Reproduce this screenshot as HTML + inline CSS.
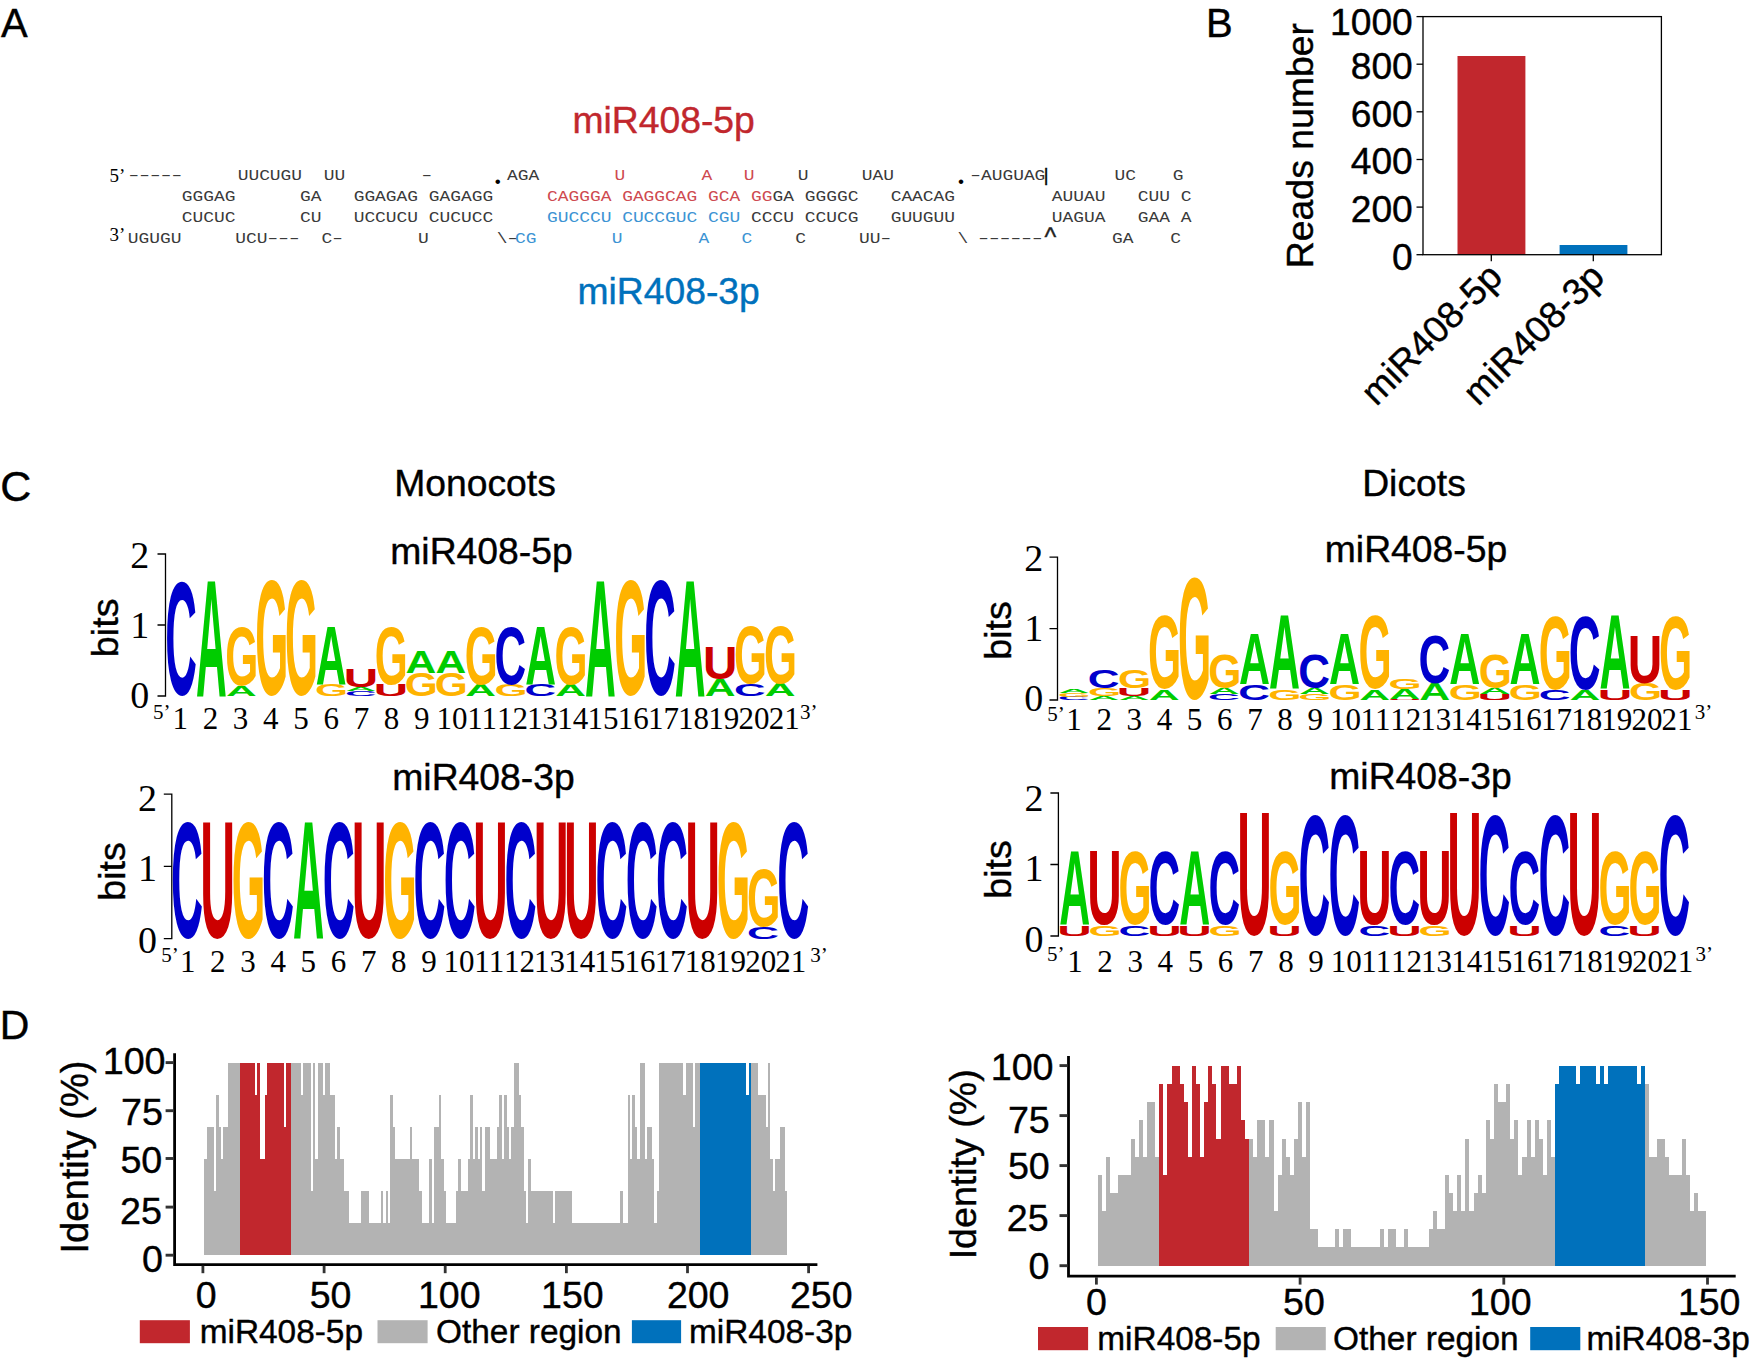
<!DOCTYPE html>
<html lang="en"><head><meta charset="utf-8"><title>miR408 figure</title>
<style>
html,body{margin:0;padding:0;background:#fff;}
svg{display:block}
text{white-space:pre}
.s{font-family:'Liberation Sans', sans-serif;stroke-width:.4px}
.r{font-family:'Liberation Serif', serif}
.m{font-family:'Liberation Mono', monospace}
.b{font-family:'Liberation Sans', sans-serif;font-weight:bold;font-size:100px}
</style></head><body>
<svg width="1750" height="1363" viewBox="0 0 1750 1363">
<rect width="1750" height="1363" fill="#fff"/>
<text class="s" x="1.00" y="37.20" font-size="40" stroke="#000">A</text>
<text class="s" x="1206.00" y="36.50" font-size="40" stroke="#000">B</text>
<text class="s" x="0.20" y="501.20" font-size="43" stroke="#000">C</text>
<text class="s" x="-0.20" y="1039.10" font-size="41" stroke="#000">D</text>
<text class="s" x="572.40" y="133.10" font-size="37.3" fill="#C1272D" stroke="#C1272D">miR408-5p</text>
<text class="s" x="577.40" y="304.20" font-size="37.3" fill="#0071BC" stroke="#0071BC">miR408-3p</text>
<text class="m" transform="translate(181.81,201.00) scale(1.1776,1)" font-size="15.2" fill="#3a3a3a">GGGAG</text>
<text class="m" transform="translate(299.95,201.00) scale(1.1776,1)" font-size="15.2" fill="#3a3a3a">GA</text>
<text class="m" transform="translate(353.65,201.00) scale(1.1776,1)" font-size="15.2" fill="#3a3a3a">GGAGAG</text>
<text class="m" transform="translate(428.83,201.00) scale(1.1776,1)" font-size="15.2" fill="#3a3a3a">GAGAGG</text>
<text class="m" transform="translate(546.97,201.00) scale(1.1776,1)" font-size="15.2" fill="#CE4A50">CAGGGA</text>
<text class="m" transform="translate(622.15,201.00) scale(1.1776,1)" font-size="15.2" fill="#CE4A50">GAGGCAG</text>
<text class="m" transform="translate(708.07,201.00) scale(1.1776,1)" font-size="15.2" fill="#CE4A50">GCA</text>
<text class="m" transform="translate(751.03,201.00) scale(1.1776,1)" font-size="15.2" fill="#CE4A50">GG</text>
<text class="m" transform="translate(772.51,201.00) scale(1.1776,1)" font-size="15.2" fill="#3a3a3a">GA</text>
<text class="m" transform="translate(804.73,201.00) scale(1.1776,1)" font-size="15.2" fill="#3a3a3a">GGGGC</text>
<text class="m" transform="translate(890.65,201.00) scale(1.1776,1)" font-size="15.2" fill="#3a3a3a">CAACAG</text>
<text class="m" transform="translate(1051.75,201.00) scale(1.1776,1)" font-size="15.2" fill="#3a3a3a">AUUAU</text>
<text class="m" transform="translate(1137.67,201.00) scale(1.1776,1)" font-size="15.2" fill="#3a3a3a">CUU</text>
<text class="m" transform="translate(1180.63,201.00) scale(1.1776,1)" font-size="15.2" fill="#3a3a3a">C</text>
<text class="m" transform="translate(181.81,222.10) scale(1.1776,1)" font-size="15.2" fill="#3a3a3a">CUCUC</text>
<text class="m" transform="translate(299.95,222.10) scale(1.1776,1)" font-size="15.2" fill="#3a3a3a">CU</text>
<text class="m" transform="translate(353.65,222.10) scale(1.1776,1)" font-size="15.2" fill="#3a3a3a">UCCUCU</text>
<text class="m" transform="translate(428.83,222.10) scale(1.1776,1)" font-size="15.2" fill="#3a3a3a">CUCUCC</text>
<text class="m" transform="translate(546.97,222.10) scale(1.1776,1)" font-size="15.2" fill="#3C93D3">GUCCCU</text>
<text class="m" transform="translate(622.15,222.10) scale(1.1776,1)" font-size="15.2" fill="#3C93D3">CUCCGUC</text>
<text class="m" transform="translate(708.07,222.10) scale(1.1776,1)" font-size="15.2" fill="#3C93D3">CGU</text>
<text class="m" transform="translate(751.03,222.10) scale(1.1776,1)" font-size="15.2" fill="#3a3a3a">CCCU</text>
<text class="m" transform="translate(804.73,222.10) scale(1.1776,1)" font-size="15.2" fill="#3a3a3a">CCUCG</text>
<text class="m" transform="translate(890.65,222.10) scale(1.1776,1)" font-size="15.2" fill="#3a3a3a">GUUGUU</text>
<text class="m" transform="translate(1051.75,222.10) scale(1.1776,1)" font-size="15.2" fill="#3a3a3a">UAGUA</text>
<text class="m" transform="translate(1137.67,222.10) scale(1.1776,1)" font-size="15.2" fill="#3a3a3a">GAA</text>
<text class="m" transform="translate(1180.63,222.10) scale(1.1776,1)" font-size="15.2" fill="#3a3a3a">A</text>
<text class="m" transform="translate(125.82,179.80) scale(1.7664,1)" font-size="15.2" letter-spacing="-3.040" fill="#3a3a3a">-----</text>
<text class="m" transform="translate(237.66,179.80) scale(1.1776,1)" font-size="15.2" fill="#3a3a3a">UUCUGU</text>
<text class="m" transform="translate(323.66,179.80) scale(1.1776,1)" font-size="15.2" fill="#3a3a3a">UU</text>
<text class="m" transform="translate(418.72,179.80) scale(1.7664,1)" font-size="15.2" letter-spacing="-3.040" fill="#3a3a3a">-</text>
<text class="m" transform="translate(507.00,179.80) scale(1.1776,1)" font-size="15.2" fill="#3a3a3a">AGA</text>
<text class="m" transform="translate(614.56,179.80) scale(1.1776,1)" font-size="15.2" fill="#CE4A50">U</text>
<text class="m" transform="translate(701.40,179.80) scale(1.1776,1)" font-size="15.2" fill="#CE4A50">A</text>
<text class="m" transform="translate(743.76,179.80) scale(1.1776,1)" font-size="15.2" fill="#CE4A50">U</text>
<text class="m" transform="translate(797.76,179.80) scale(1.1776,1)" font-size="15.2" fill="#3a3a3a">U</text>
<text class="m" transform="translate(861.76,179.80) scale(1.1776,1)" font-size="15.2" fill="#3a3a3a">UAU</text>
<text class="m" transform="translate(967.52,179.80) scale(1.7664,1)" font-size="15.2" letter-spacing="-3.040" fill="#3a3a3a">-</text>
<text class="m" transform="translate(980.94,179.80) scale(1.1776,1)" font-size="15.2" fill="#3a3a3a">AUGUAG</text>
<text class="m" transform="translate(1114.56,179.80) scale(1.1776,1)" font-size="15.2" fill="#3a3a3a">UC</text>
<text class="m" transform="translate(1172.81,179.80) scale(1.1776,1)" font-size="15.2" fill="#3a3a3a">G</text>
<text class="m" transform="translate(127.76,243.20) scale(1.1776,1)" font-size="15.2" fill="#3a3a3a">UGUGU</text>
<text class="m" transform="translate(235.16,243.20) scale(1.1776,1)" font-size="15.2" fill="#3a3a3a">UCU</text>
<text class="m" transform="translate(264.69,243.20) scale(1.7664,1)" font-size="15.2" letter-spacing="-3.040" fill="#3a3a3a">---</text>
<text class="m" transform="translate(321.41,243.20) scale(1.1776,1)" font-size="15.2" fill="#3a3a3a">C</text>
<text class="m" transform="translate(329.47,243.20) scale(1.7664,1)" font-size="15.2" letter-spacing="-3.040" fill="#3a3a3a">-</text>
<text class="m" transform="translate(417.96,243.20) scale(1.1776,1)" font-size="15.2" fill="#3a3a3a">U</text>
<text class="m" transform="translate(496.79,243.20) scale(1.1776,1)" font-size="15.2" fill="#3a3a3a">\</text>
<text class="m" transform="translate(504.85,243.20) scale(1.7664,1)" font-size="15.2" letter-spacing="-3.040" fill="#3a3a3a">-</text>
<text class="m" transform="translate(515.01,243.20) scale(1.1776,1)" font-size="15.2" fill="#3C93D3">CG</text>
<text class="m" transform="translate(611.76,243.20) scale(1.1776,1)" font-size="15.2" fill="#3C93D3">U</text>
<text class="m" transform="translate(698.60,243.20) scale(1.1776,1)" font-size="15.2" fill="#3C93D3">A</text>
<text class="m" transform="translate(741.41,243.20) scale(1.1776,1)" font-size="15.2" fill="#3C93D3">C</text>
<text class="m" transform="translate(795.21,243.20) scale(1.1776,1)" font-size="15.2" fill="#3a3a3a">C</text>
<text class="m" transform="translate(858.96,243.20) scale(1.1776,1)" font-size="15.2" fill="#3a3a3a">UU</text>
<text class="m" transform="translate(877.75,243.20) scale(1.7664,1)" font-size="15.2" letter-spacing="-3.040" fill="#3a3a3a">-</text>
<text class="m" transform="translate(957.39,243.20) scale(1.1776,1)" font-size="15.2" fill="#3a3a3a">\</text>
<text class="m" transform="translate(975.52,243.20) scale(1.7664,1)" font-size="15.2" letter-spacing="-3.040" fill="#3a3a3a">------</text>
<text class="m" transform="translate(1112.01,243.20) scale(1.1776,1)" font-size="15.2" fill="#3a3a3a">GA</text>
<text class="m" transform="translate(1170.21,243.20) scale(1.1776,1)" font-size="15.2" fill="#3a3a3a">C</text>
<text class="r" x="109.50" y="181.50" font-size="19">5’</text>
<text class="r" x="109.50" y="241.40" font-size="19">3’</text>
<text class="r" x="494.30" y="184.30" font-size="28" font-weight="bold">.</text>
<text class="r" x="957.60" y="184.30" font-size="28" font-weight="bold">.</text>
<text class="s" x="1043.70" y="180.80" font-size="18.1" stroke="#000" stroke-width="0.5">|</text>
<text class="s" x="1044.50" y="246.00" font-size="25" fill="#222" stroke="#222">^</text>
<rect x="1457.5" y="56" width="67.9" height="198.7" fill="#C1272D"/>
<rect x="1559.6" y="245" width="67.8" height="9.7" fill="#0071BC"/>
<rect x="1423.0" y="16.6" width="238.4" height="238.1" fill="none" stroke="#000" stroke-width="1.3"/>
<line x1="1416.5" y1="254.7" x2="1423.0" y2="254.7" stroke="#000" stroke-width="1.3"/>
<text class="s" x="1412.80" y="269.80" font-size="37.2" text-anchor="end" stroke="#000">0</text>
<line x1="1416.5" y1="207.1" x2="1423.0" y2="207.1" stroke="#000" stroke-width="1.3"/>
<text class="s" x="1412.80" y="221.98" font-size="37.2" text-anchor="end" stroke="#000">200</text>
<line x1="1416.5" y1="159.5" x2="1423.0" y2="159.5" stroke="#000" stroke-width="1.3"/>
<text class="s" x="1412.80" y="174.36" font-size="37.2" text-anchor="end" stroke="#000">400</text>
<line x1="1416.5" y1="111.8" x2="1423.0" y2="111.8" stroke="#000" stroke-width="1.3"/>
<text class="s" x="1412.80" y="126.74" font-size="37.2" text-anchor="end" stroke="#000">600</text>
<line x1="1416.5" y1="64.2" x2="1423.0" y2="64.2" stroke="#000" stroke-width="1.3"/>
<text class="s" x="1412.80" y="78.92" font-size="37.2" text-anchor="end" stroke="#000">800</text>
<line x1="1416.5" y1="16.6" x2="1423.0" y2="16.6" stroke="#000" stroke-width="1.3"/>
<text class="s" x="1412.80" y="34.60" font-size="37.2" text-anchor="end" stroke="#000">1000</text>
<line x1="1491.3" y1="254.7" x2="1491.3" y2="261.2" stroke="#000" stroke-width="1.3"/>
<line x1="1593.3" y1="254.7" x2="1593.3" y2="261.2" stroke="#000" stroke-width="1.3"/>
<text class="s" stroke="#000" font-size="37.4" text-anchor="middle" transform="translate(1313.2,145.6) rotate(-90)">Reads number</text>
<text class="s" stroke="#000" font-size="37" text-anchor="end" transform="translate(1504.3,278.9) rotate(-45)">miR408-5p</text>
<text class="s" stroke="#000" font-size="37" text-anchor="end" transform="translate(1606.3,278.9) rotate(-45)">miR408-3p</text>
<text class="s" x="475.00" y="496.00" font-size="37.3" text-anchor="middle" stroke="#000">Monocots</text>
<text class="s" x="1414.00" y="496.00" font-size="37.3" text-anchor="middle" stroke="#000">Dicots</text>
<path d="M157.5 696.0H165.5V554.0H157.5M157.5 625.0H165.5" fill="none" stroke="#000" stroke-width="1.3"/>
<text class="r" x="149.30" y="707.60" font-size="38" text-anchor="end">0</text>
<text class="r" x="149.30" y="637.60" font-size="38" text-anchor="end">1</text>
<text class="r" x="149.30" y="568.40" font-size="38" text-anchor="end">2</text>
<text class="s" stroke="#000" font-size="37.7" text-anchor="middle" transform="translate(117.7,627.8) rotate(-90)">bits</text>
<text class="s" x="481.50" y="564.00" font-size="37.3" text-anchor="middle" stroke="#000">miR408-5p</text>
<text class="b" fill="#0000CC" transform="matrix(0.4379 0 0 1.6215 165.30 694.42)">C</text>
<text class="r" x="180.20" y="728.70" font-size="31" text-anchor="middle">1</text>
<text class="b" fill="#00CC00" transform="matrix(0.4267 0 0 1.6715 195.97 696.00)">A</text>
<text class="r" x="210.40" y="728.70" font-size="31" text-anchor="middle">2</text>
<text class="b" fill="#00CC00" transform="matrix(0.4267 0 0 0.1541 225.90 696.00)">A</text>
<text class="b" fill="#FFB300" transform="matrix(0.4243 0 0 0.8291 225.22 684.59)">G</text>
<text class="r" x="240.60" y="728.70" font-size="31" text-anchor="middle">3</text>
<text class="b" fill="#FFB300" transform="matrix(0.4243 0 0 1.6243 255.15 694.41)">G</text>
<text class="r" x="270.80" y="728.70" font-size="31" text-anchor="middle">4</text>
<text class="b" fill="#FFB300" transform="matrix(0.4243 0 0 1.6243 285.08 694.41)">G</text>
<text class="r" x="301.00" y="728.70" font-size="31" text-anchor="middle">5</text>
<text class="b" fill="#FFB300" transform="matrix(0.4243 0 0 0.1624 315.01 695.84)">G</text>
<text class="b" fill="#00CC00" transform="matrix(0.4267 0 0 0.8401 315.69 684.50)">A</text>
<text class="r" x="331.20" y="728.70" font-size="31" text-anchor="middle">6</text>
<text class="b" fill="#0000CC" transform="matrix(0.4379 0 0 0.0650 344.88 695.94)">C</text>
<text class="b" fill="#00CC00" transform="matrix(0.4267 0 0 0.0538 345.62 691.40)">A</text>
<text class="b" fill="#CC0000" transform="matrix(0.4763 0 0 0.2565 343.82 687.45)">U</text>
<text class="r" x="361.40" y="728.70" font-size="31" text-anchor="middle">7</text>
<text class="b" fill="#CC0000" transform="matrix(0.4763 0 0 0.1619 373.75 695.84)">U</text>
<text class="b" fill="#FFB300" transform="matrix(0.4243 0 0 0.8192 374.87 683.90)">G</text>
<text class="r" x="391.60" y="728.70" font-size="31" text-anchor="middle">8</text>
<text class="b" fill="#FFB300" transform="matrix(0.4243 0 0 0.3277 404.80 695.68)">G</text>
<text class="b" fill="#00CC00" transform="matrix(0.4267 0 0 0.3125 405.48 672.80)">A</text>
<text class="r" x="421.80" y="728.70" font-size="31" text-anchor="middle">9</text>
<text class="b" fill="#FFB300" transform="matrix(0.4243 0 0 0.3277 434.73 695.68)">G</text>
<text class="b" fill="#00CC00" transform="matrix(0.4267 0 0 0.3125 435.41 672.80)">A</text>
<text class="r" x="452.00" y="728.70" font-size="31" text-anchor="middle">10</text>
<text class="b" fill="#00CC00" transform="matrix(0.4267 0 0 0.1599 465.34 696.00)">A</text>
<text class="b" fill="#FFB300" transform="matrix(0.4243 0 0 0.8234 464.66 684.20)">G</text>
<text class="r" x="482.20" y="728.70" font-size="31" text-anchor="middle">11</text>
<text class="b" fill="#FFB300" transform="matrix(0.4243 0 0 0.1624 494.59 695.84)">G</text>
<text class="b" fill="#0000CC" transform="matrix(0.4379 0 0 0.8164 494.53 683.70)">C</text>
<text class="r" x="512.40" y="728.70" font-size="31" text-anchor="middle">12</text>
<text class="b" fill="#0000CC" transform="matrix(0.4379 0 0 0.1596 524.46 695.84)">C</text>
<text class="b" fill="#00CC00" transform="matrix(0.4267 0 0 0.8430 525.20 684.70)">A</text>
<text class="r" x="542.60" y="728.70" font-size="31" text-anchor="middle">13</text>
<text class="b" fill="#00CC00" transform="matrix(0.4267 0 0 0.1599 555.13 696.00)">A</text>
<text class="b" fill="#FFB300" transform="matrix(0.4243 0 0 0.8234 554.45 684.20)">G</text>
<text class="r" x="572.80" y="728.70" font-size="31" text-anchor="middle">14</text>
<text class="b" fill="#00CC00" transform="matrix(0.4267 0 0 1.6715 585.06 696.00)">A</text>
<text class="r" x="603.00" y="728.70" font-size="31" text-anchor="middle">15</text>
<text class="b" fill="#FFB300" transform="matrix(0.4243 0 0 1.6243 614.31 694.41)">G</text>
<text class="r" x="633.20" y="728.70" font-size="31" text-anchor="middle">16</text>
<text class="b" fill="#0000CC" transform="matrix(0.4379 0 0 1.6243 644.18 694.41)">C</text>
<text class="r" x="663.40" y="728.70" font-size="31" text-anchor="middle">17</text>
<text class="b" fill="#00CC00" transform="matrix(0.4267 0 0 1.6715 674.85 696.00)">A</text>
<text class="r" x="693.60" y="728.70" font-size="31" text-anchor="middle">18</text>
<text class="b" fill="#00CC00" transform="matrix(0.4267 0 0 0.2442 704.78 696.00)">A</text>
<text class="b" fill="#CC0000" transform="matrix(0.4763 0 0 0.4672 702.98 678.74)">U</text>
<text class="r" x="723.80" y="728.70" font-size="31" text-anchor="middle">19</text>
<text class="b" fill="#0000CC" transform="matrix(0.4379 0 0 0.1695 733.97 695.83)">C</text>
<text class="b" fill="#FFB300" transform="matrix(0.4243 0 0 0.8065 734.03 683.21)">G</text>
<text class="r" x="754.00" y="728.70" font-size="31" text-anchor="middle">20</text>
<text class="b" fill="#00CC00" transform="matrix(0.4267 0 0 0.1744 764.64 696.00)">A</text>
<text class="b" fill="#FFB300" transform="matrix(0.4243 0 0 0.8065 763.96 683.21)">G</text>
<text class="r" x="784.20" y="728.70" font-size="31" text-anchor="middle">21</text>
<text class="r" x="153.00" y="718.70" font-size="21">5’</text>
<text class="r" x="800.10" y="719.00" font-size="21">3’</text>
<path d="M163.8 938.7H171.8V794.1H163.8M163.8 866.4H171.8" fill="none" stroke="#000" stroke-width="1.3"/>
<text class="r" x="157.10" y="952.60" font-size="38" text-anchor="end">0</text>
<text class="r" x="157.10" y="881.30" font-size="38" text-anchor="end">1</text>
<text class="r" x="157.10" y="810.80" font-size="38" text-anchor="end">2</text>
<text class="s" stroke="#000" font-size="37.7" text-anchor="middle" transform="translate(125.0,871.4) rotate(-90)">bits</text>
<text class="s" x="483.50" y="789.60" font-size="37.3" text-anchor="middle" stroke="#000">miR408-3p</text>
<text class="b" fill="#0000CC" transform="matrix(0.4437 0 0 1.6426 171.08 937.10)">C</text>
<text class="r" x="187.70" y="971.70" font-size="31" text-anchor="middle">1</text>
<text class="b" fill="#CC0000" transform="matrix(0.4826 0 0 1.6668 200.31 937.07)">U</text>
<text class="r" x="217.85" y="971.70" font-size="31" text-anchor="middle">2</text>
<text class="b" fill="#FFB300" transform="matrix(0.4299 0 0 1.6426 231.76 937.10)">G</text>
<text class="r" x="248.01" y="971.70" font-size="31" text-anchor="middle">3</text>
<text class="b" fill="#0000CC" transform="matrix(0.4437 0 0 1.6426 262.01 937.10)">C</text>
<text class="r" x="278.16" y="971.70" font-size="31" text-anchor="middle">4</text>
<text class="b" fill="#00CC00" transform="matrix(0.4324 0 0 1.6904 293.06 938.70)">A</text>
<text class="r" x="308.32" y="971.70" font-size="31" text-anchor="middle">5</text>
<text class="b" fill="#0000CC" transform="matrix(0.4437 0 0 1.6426 322.63 937.10)">C</text>
<text class="r" x="338.48" y="971.70" font-size="31" text-anchor="middle">6</text>
<text class="b" fill="#CC0000" transform="matrix(0.4826 0 0 1.6668 351.86 937.07)">U</text>
<text class="r" x="368.63" y="971.70" font-size="31" text-anchor="middle">7</text>
<text class="b" fill="#FFB300" transform="matrix(0.4299 0 0 1.6426 383.31 937.10)">G</text>
<text class="r" x="398.78" y="971.70" font-size="31" text-anchor="middle">8</text>
<text class="b" fill="#0000CC" transform="matrix(0.4437 0 0 1.6426 413.56 937.10)">C</text>
<text class="r" x="428.94" y="971.70" font-size="31" text-anchor="middle">9</text>
<text class="b" fill="#0000CC" transform="matrix(0.4437 0 0 1.6426 443.87 937.10)">C</text>
<text class="r" x="459.09" y="971.70" font-size="31" text-anchor="middle">10</text>
<text class="b" fill="#CC0000" transform="matrix(0.4826 0 0 1.6668 473.10 937.07)">U</text>
<text class="r" x="489.25" y="971.70" font-size="31" text-anchor="middle">11</text>
<text class="b" fill="#0000CC" transform="matrix(0.4437 0 0 1.6426 504.49 937.10)">C</text>
<text class="r" x="519.40" y="971.70" font-size="31" text-anchor="middle">12</text>
<text class="b" fill="#CC0000" transform="matrix(0.4826 0 0 1.6668 533.72 937.07)">U</text>
<text class="r" x="549.56" y="971.70" font-size="31" text-anchor="middle">13</text>
<text class="b" fill="#CC0000" transform="matrix(0.4826 0 0 1.6668 564.03 937.07)">U</text>
<text class="r" x="579.71" y="971.70" font-size="31" text-anchor="middle">14</text>
<text class="b" fill="#0000CC" transform="matrix(0.4437 0 0 1.6426 595.42 937.10)">C</text>
<text class="r" x="609.87" y="971.70" font-size="31" text-anchor="middle">15</text>
<text class="b" fill="#0000CC" transform="matrix(0.4437 0 0 1.6426 625.73 937.10)">C</text>
<text class="r" x="640.03" y="971.70" font-size="31" text-anchor="middle">16</text>
<text class="b" fill="#0000CC" transform="matrix(0.4437 0 0 1.6426 656.04 937.10)">C</text>
<text class="r" x="670.18" y="971.70" font-size="31" text-anchor="middle">17</text>
<text class="b" fill="#CC0000" transform="matrix(0.4826 0 0 1.6668 685.27 937.07)">U</text>
<text class="r" x="700.34" y="971.70" font-size="31" text-anchor="middle">18</text>
<text class="b" fill="#FFB300" transform="matrix(0.4299 0 0 1.6426 716.72 937.10)">G</text>
<text class="r" x="730.49" y="971.70" font-size="31" text-anchor="middle">19</text>
<text class="b" fill="#0000CC" transform="matrix(0.4437 0 0 0.1723 746.97 938.53)">C</text>
<text class="b" fill="#FFB300" transform="matrix(0.4299 0 0 0.8093 747.03 925.71)">G</text>
<text class="r" x="760.64" y="971.70" font-size="31" text-anchor="middle">20</text>
<text class="b" fill="#0000CC" transform="matrix(0.4437 0 0 1.6426 777.28 937.10)">C</text>
<text class="r" x="790.80" y="971.70" font-size="31" text-anchor="middle">21</text>
<text class="r" x="161.30" y="962.40" font-size="21">5’</text>
<text class="r" x="810.20" y="962.10" font-size="21">3’</text>
<path d="M1049.5 700.0H1057.5V557.2H1049.5M1049.5 628.6H1057.5" fill="none" stroke="#000" stroke-width="1.3"/>
<text class="r" x="1043.30" y="710.90" font-size="38" text-anchor="end">0</text>
<text class="r" x="1043.30" y="640.50" font-size="38" text-anchor="end">1</text>
<text class="r" x="1043.30" y="570.90" font-size="38" text-anchor="end">2</text>
<text class="s" stroke="#000" font-size="37.7" text-anchor="middle" transform="translate(1010.7,630.4) rotate(-90)">bits</text>
<text class="s" x="1416.00" y="562.00" font-size="37.3" text-anchor="middle" stroke="#000">miR408-5p</text>
<text class="b" fill="#0000CC" transform="matrix(0.4399 0 0 0.0480 1057.80 699.95)">C</text>
<text class="b" fill="#FFB300" transform="matrix(0.4262 0 0 0.0523 1057.85 696.55)">G</text>
<text class="b" fill="#00CC00" transform="matrix(0.4287 0 0 0.0552 1058.53 692.90)">A</text>
<text class="r" x="1074.00" y="730.10" font-size="31" text-anchor="middle">1</text>
<text class="b" fill="#00CC00" transform="matrix(0.4287 0 0 0.0596 1088.59 700.00)">A</text>
<text class="b" fill="#FFB300" transform="matrix(0.4262 0 0 0.1031 1087.91 695.80)">G</text>
<text class="b" fill="#0000CC" transform="matrix(0.4399 0 0 0.2556 1087.86 688.35)">C</text>
<text class="r" x="1104.15" y="730.10" font-size="31" text-anchor="middle">2</text>
<text class="b" fill="#00CC00" transform="matrix(0.4287 0 0 0.0596 1118.65 700.00)">A</text>
<text class="b" fill="#CC0000" transform="matrix(0.4785 0 0 0.1046 1116.85 695.80)">U</text>
<text class="b" fill="#FFB300" transform="matrix(0.4262 0 0 0.2556 1117.97 688.35)">G</text>
<text class="r" x="1134.31" y="730.10" font-size="31" text-anchor="middle">3</text>
<text class="b" fill="#00CC00" transform="matrix(0.4287 0 0 0.1541 1148.71 700.00)">A</text>
<text class="b" fill="#FFB300" transform="matrix(0.4262 0 0 1.0325 1148.03 688.39)">G</text>
<text class="r" x="1164.46" y="730.10" font-size="31" text-anchor="middle">4</text>
<text class="b" fill="#FFB300" transform="matrix(0.4262 0 0 1.7189 1178.09 698.32)">G</text>
<text class="r" x="1194.62" y="730.10" font-size="31" text-anchor="middle">5</text>
<text class="b" fill="#0000CC" transform="matrix(0.4399 0 0 0.0819 1208.10 699.92)">C</text>
<text class="b" fill="#00CC00" transform="matrix(0.4287 0 0 0.0901 1208.83 694.20)">A</text>
<text class="b" fill="#FFB300" transform="matrix(0.4262 0 0 0.4802 1208.15 687.53)">G</text>
<text class="r" x="1224.78" y="730.10" font-size="31" text-anchor="middle">6</text>
<text class="b" fill="#0000CC" transform="matrix(0.4399 0 0 0.2260 1238.16 699.78)">C</text>
<text class="b" fill="#00CC00" transform="matrix(0.4287 0 0 0.7137 1238.89 684.00)">A</text>
<text class="r" x="1254.93" y="730.10" font-size="31" text-anchor="middle">7</text>
<text class="b" fill="#FFB300" transform="matrix(0.4262 0 0 0.1497 1268.27 699.85)">G</text>
<text class="b" fill="#00CC00" transform="matrix(0.4287 0 0 1.0625 1268.95 689.40)">A</text>
<text class="r" x="1285.09" y="730.10" font-size="31" text-anchor="middle">8</text>
<text class="b" fill="#FFB300" transform="matrix(0.4262 0 0 0.0819 1298.33 699.92)">G</text>
<text class="b" fill="#00CC00" transform="matrix(0.4287 0 0 0.0901 1299.01 694.20)">A</text>
<text class="b" fill="#0000CC" transform="matrix(0.4399 0 0 0.4802 1298.28 687.53)">C</text>
<text class="r" x="1315.24" y="730.10" font-size="31" text-anchor="middle">9</text>
<text class="b" fill="#FFB300" transform="matrix(0.4262 0 0 0.2260 1328.39 699.78)">G</text>
<text class="b" fill="#00CC00" transform="matrix(0.4287 0 0 0.7137 1329.07 684.00)">A</text>
<text class="r" x="1345.39" y="730.10" font-size="31" text-anchor="middle">10</text>
<text class="b" fill="#00CC00" transform="matrix(0.4287 0 0 0.1541 1359.13 700.00)">A</text>
<text class="b" fill="#FFB300" transform="matrix(0.4262 0 0 1.0325 1358.45 688.39)">G</text>
<text class="r" x="1375.55" y="730.10" font-size="31" text-anchor="middle">11</text>
<text class="b" fill="#CC0000" transform="matrix(0.4785 0 0 0.0215 1387.39 699.98)">U</text>
<text class="b" fill="#00CC00" transform="matrix(0.4287 0 0 0.1381 1389.19 698.50)">A</text>
<text class="b" fill="#FFB300" transform="matrix(0.4262 0 0 0.1455 1388.51 688.86)">G</text>
<text class="r" x="1405.70" y="730.10" font-size="31" text-anchor="middle">12</text>
<text class="b" fill="#00CC00" transform="matrix(0.4287 0 0 0.2326 1419.25 700.00)">A</text>
<text class="b" fill="#0000CC" transform="matrix(0.4399 0 0 0.6878 1418.52 683.33)">C</text>
<text class="r" x="1435.86" y="730.10" font-size="31" text-anchor="middle">13</text>
<text class="b" fill="#FFB300" transform="matrix(0.4262 0 0 0.2260 1448.63 699.78)">G</text>
<text class="b" fill="#00CC00" transform="matrix(0.4287 0 0 0.7137 1449.31 684.00)">A</text>
<text class="r" x="1466.01" y="730.10" font-size="31" text-anchor="middle">14</text>
<text class="b" fill="#CC0000" transform="matrix(0.4785 0 0 0.0831 1477.57 699.92)">U</text>
<text class="b" fill="#00CC00" transform="matrix(0.4287 0 0 0.0901 1479.37 694.20)">A</text>
<text class="b" fill="#FFB300" transform="matrix(0.4262 0 0 0.4802 1478.69 687.53)">G</text>
<text class="r" x="1496.17" y="730.10" font-size="31" text-anchor="middle">15</text>
<text class="b" fill="#FFB300" transform="matrix(0.4262 0 0 0.2260 1508.75 699.78)">G</text>
<text class="b" fill="#00CC00" transform="matrix(0.4287 0 0 0.7137 1509.43 684.00)">A</text>
<text class="r" x="1526.33" y="730.10" font-size="31" text-anchor="middle">16</text>
<text class="b" fill="#0000CC" transform="matrix(0.4399 0 0 0.1455 1538.76 699.86)">C</text>
<text class="b" fill="#FFB300" transform="matrix(0.4262 0 0 1.0367 1538.81 688.69)">G</text>
<text class="r" x="1556.48" y="730.10" font-size="31" text-anchor="middle">17</text>
<text class="b" fill="#00CC00" transform="matrix(0.4287 0 0 0.1497 1569.55 700.00)">A</text>
<text class="b" fill="#0000CC" transform="matrix(0.4399 0 0 1.0367 1568.82 688.69)">C</text>
<text class="r" x="1586.63" y="730.10" font-size="31" text-anchor="middle">18</text>
<text class="b" fill="#CC0000" transform="matrix(0.4785 0 0 0.1519 1597.81 699.85)">U</text>
<text class="b" fill="#00CC00" transform="matrix(0.4287 0 0 1.0625 1599.61 689.40)">A</text>
<text class="r" x="1616.79" y="730.10" font-size="31" text-anchor="middle">19</text>
<text class="b" fill="#FFB300" transform="matrix(0.4262 0 0 0.2302 1628.99 699.78)">G</text>
<text class="b" fill="#CC0000" transform="matrix(0.4785 0 0 0.6937 1627.87 683.02)">U</text>
<text class="r" x="1646.95" y="730.10" font-size="31" text-anchor="middle">20</text>
<text class="b" fill="#CC0000" transform="matrix(0.4785 0 0 0.1476 1657.93 699.86)">U</text>
<text class="b" fill="#FFB300" transform="matrix(0.4262 0 0 1.0367 1659.05 688.69)">G</text>
<text class="r" x="1677.10" y="730.10" font-size="31" text-anchor="middle">21</text>
<text class="r" x="1047.30" y="720.50" font-size="21">5’</text>
<text class="r" x="1694.80" y="719.40" font-size="21">3’</text>
<path d="M1050.4 936.0H1058.4V793.0H1050.4M1050.4 864.5H1058.4" fill="none" stroke="#000" stroke-width="1.3"/>
<text class="r" x="1043.50" y="951.60" font-size="38" text-anchor="end">0</text>
<text class="r" x="1043.50" y="881.10" font-size="38" text-anchor="end">1</text>
<text class="r" x="1043.50" y="811.40" font-size="38" text-anchor="end">2</text>
<text class="s" stroke="#000" font-size="37.7" text-anchor="middle" transform="translate(1010.6,869.5) rotate(-90)">bits</text>
<text class="s" x="1420.50" y="789.00" font-size="37.3" text-anchor="middle" stroke="#000">miR408-3p</text>
<text class="b" fill="#CC0000" transform="matrix(0.4775 0 0 0.1533 1057.33 935.85)">U</text>
<text class="b" fill="#00CC00" transform="matrix(0.4278 0 0 1.0654 1059.13 925.30)">A</text>
<text class="r" x="1074.90" y="971.70" font-size="31" text-anchor="middle">1</text>
<text class="b" fill="#FFB300" transform="matrix(0.4253 0 0 0.1511 1088.46 935.85)">G</text>
<text class="b" fill="#CC0000" transform="matrix(0.4775 0 0 1.0505 1087.33 924.27)">U</text>
<text class="r" x="1105.04" y="971.70" font-size="31" text-anchor="middle">2</text>
<text class="b" fill="#0000CC" transform="matrix(0.4390 0 0 0.1511 1118.40 935.85)">C</text>
<text class="b" fill="#FFB300" transform="matrix(0.4253 0 0 1.0353 1118.46 924.29)">G</text>
<text class="r" x="1135.18" y="971.70" font-size="31" text-anchor="middle">3</text>
<text class="b" fill="#CC0000" transform="matrix(0.4775 0 0 0.1533 1147.33 935.85)">U</text>
<text class="b" fill="#0000CC" transform="matrix(0.4390 0 0 1.0353 1148.40 924.29)">C</text>
<text class="r" x="1165.32" y="971.70" font-size="31" text-anchor="middle">4</text>
<text class="b" fill="#CC0000" transform="matrix(0.4775 0 0 0.1533 1177.33 935.85)">U</text>
<text class="b" fill="#00CC00" transform="matrix(0.4278 0 0 1.0654 1179.13 925.30)">A</text>
<text class="r" x="1195.46" y="971.70" font-size="31" text-anchor="middle">5</text>
<text class="b" fill="#FFB300" transform="matrix(0.4253 0 0 0.1511 1208.46 935.85)">G</text>
<text class="b" fill="#0000CC" transform="matrix(0.4390 0 0 1.0353 1208.40 924.29)">C</text>
<text class="r" x="1225.60" y="971.70" font-size="31" text-anchor="middle">6</text>
<text class="b" fill="#CC0000" transform="matrix(0.4775 0 0 1.7628 1237.33 934.28)">U</text>
<text class="r" x="1255.74" y="971.70" font-size="31" text-anchor="middle">7</text>
<text class="b" fill="#CC0000" transform="matrix(0.4775 0 0 0.1533 1267.33 935.85)">U</text>
<text class="b" fill="#FFB300" transform="matrix(0.4253 0 0 1.0353 1268.46 924.29)">G</text>
<text class="r" x="1285.88" y="971.70" font-size="31" text-anchor="middle">8</text>
<text class="b" fill="#0000CC" transform="matrix(0.4390 0 0 1.7161 1298.40 934.32)">C</text>
<text class="r" x="1316.02" y="971.70" font-size="31" text-anchor="middle">9</text>
<text class="b" fill="#0000CC" transform="matrix(0.4390 0 0 1.7161 1328.40 934.32)">C</text>
<text class="r" x="1346.16" y="971.70" font-size="31" text-anchor="middle">10</text>
<text class="b" fill="#0000CC" transform="matrix(0.4390 0 0 0.1511 1358.40 935.85)">C</text>
<text class="b" fill="#CC0000" transform="matrix(0.4775 0 0 1.0505 1357.33 924.27)">U</text>
<text class="r" x="1376.30" y="971.70" font-size="31" text-anchor="middle">11</text>
<text class="b" fill="#CC0000" transform="matrix(0.4775 0 0 0.1533 1387.33 935.85)">U</text>
<text class="b" fill="#0000CC" transform="matrix(0.4390 0 0 1.0353 1388.40 924.29)">C</text>
<text class="r" x="1406.44" y="971.70" font-size="31" text-anchor="middle">12</text>
<text class="b" fill="#FFB300" transform="matrix(0.4253 0 0 0.1511 1418.46 935.85)">G</text>
<text class="b" fill="#CC0000" transform="matrix(0.4775 0 0 1.0505 1417.33 924.27)">U</text>
<text class="r" x="1436.58" y="971.70" font-size="31" text-anchor="middle">13</text>
<text class="b" fill="#CC0000" transform="matrix(0.4775 0 0 1.7628 1447.33 934.28)">U</text>
<text class="r" x="1466.72" y="971.70" font-size="31" text-anchor="middle">14</text>
<text class="b" fill="#0000CC" transform="matrix(0.4390 0 0 1.7161 1478.40 934.32)">C</text>
<text class="r" x="1496.86" y="971.70" font-size="31" text-anchor="middle">15</text>
<text class="b" fill="#CC0000" transform="matrix(0.4775 0 0 0.1533 1507.33 935.85)">U</text>
<text class="b" fill="#0000CC" transform="matrix(0.4390 0 0 1.0353 1508.40 924.29)">C</text>
<text class="r" x="1527.00" y="971.70" font-size="31" text-anchor="middle">16</text>
<text class="b" fill="#0000CC" transform="matrix(0.4390 0 0 1.7161 1538.40 934.32)">C</text>
<text class="r" x="1557.14" y="971.70" font-size="31" text-anchor="middle">17</text>
<text class="b" fill="#CC0000" transform="matrix(0.4775 0 0 1.7628 1567.33 934.28)">U</text>
<text class="r" x="1587.28" y="971.70" font-size="31" text-anchor="middle">18</text>
<text class="b" fill="#0000CC" transform="matrix(0.4390 0 0 0.1511 1598.40 935.85)">C</text>
<text class="b" fill="#FFB300" transform="matrix(0.4253 0 0 1.0353 1598.46 924.29)">G</text>
<text class="r" x="1617.42" y="971.70" font-size="31" text-anchor="middle">19</text>
<text class="b" fill="#CC0000" transform="matrix(0.4775 0 0 0.1533 1627.33 935.85)">U</text>
<text class="b" fill="#FFB300" transform="matrix(0.4253 0 0 1.0353 1628.46 924.29)">G</text>
<text class="r" x="1647.56" y="971.70" font-size="31" text-anchor="middle">20</text>
<text class="b" fill="#0000CC" transform="matrix(0.4390 0 0 1.7161 1658.40 934.32)">C</text>
<text class="r" x="1677.70" y="971.70" font-size="31" text-anchor="middle">21</text>
<text class="r" x="1046.90" y="960.70" font-size="21">5’</text>
<text class="r" x="1695.50" y="961.00" font-size="21">3’</text>
<path d="M204.10 1254.7V1158.75H206.52V1254.7ZM206.52 1254.7V1126.77H213.78V1254.7ZM213.78 1254.7V1190.73H216.20V1254.7ZM216.20 1254.7V1094.78H218.62V1254.7ZM218.62 1254.7V1126.77H221.04V1254.7ZM221.04 1254.7V1158.75H223.46V1254.7ZM223.46 1254.7V1126.77H228.30V1254.7ZM228.30 1254.7V1062.80H240.40V1254.7ZM291.22 1254.7V1062.80H300.90V1254.7ZM300.90 1254.7V1094.78H303.32V1254.7ZM303.32 1254.7V1062.80H310.58V1254.7ZM310.58 1254.7V1190.73H313.00V1254.7ZM313.00 1254.7V1062.80H315.42V1254.7ZM315.42 1254.7V1158.75H317.84V1254.7ZM317.84 1254.7V1062.80H322.68V1254.7ZM322.68 1254.7V1094.78H325.10V1254.7ZM325.10 1254.7V1062.80H329.94V1254.7ZM329.94 1254.7V1094.78H334.78V1254.7ZM334.78 1254.7V1158.75H337.20V1254.7ZM337.20 1254.7V1126.77H339.62V1254.7ZM339.62 1254.7V1158.75H344.46V1254.7ZM344.46 1254.7V1190.73H349.30V1254.7ZM349.30 1254.7V1222.72H361.40V1254.7ZM361.40 1254.7V1190.73H368.66V1254.7ZM368.66 1254.7V1222.72H380.76V1254.7ZM380.76 1254.7V1190.73H383.18V1254.7ZM383.18 1254.7V1222.72H385.60V1254.7ZM385.60 1254.7V1190.73H388.02V1254.7ZM388.02 1254.7V1222.72H390.44V1254.7ZM390.44 1254.7V1094.78H392.86V1254.7ZM392.86 1254.7V1126.77H395.28V1254.7ZM395.28 1254.7V1158.75H409.80V1254.7ZM409.80 1254.7V1126.77H412.22V1254.7ZM412.22 1254.7V1158.75H419.48V1254.7ZM419.48 1254.7V1190.73H421.90V1254.7ZM421.90 1254.7V1222.72H429.16V1254.7ZM429.16 1254.7V1158.75H431.58V1254.7ZM431.58 1254.7V1222.72H434.00V1254.7ZM434.00 1254.7V1126.77H438.84V1254.7ZM438.84 1254.7V1094.78H441.26V1254.7ZM441.26 1254.7V1158.75H443.68V1254.7ZM443.68 1254.7V1190.73H446.10V1254.7ZM446.10 1254.7V1222.72H455.78V1254.7ZM455.78 1254.7V1190.73H458.20V1254.7ZM458.20 1254.7V1158.75H460.62V1254.7ZM460.62 1254.7V1190.73H467.88V1254.7ZM467.88 1254.7V1158.75H470.30V1254.7ZM470.30 1254.7V1094.78H472.72V1254.7ZM472.72 1254.7V1158.75H475.14V1254.7ZM475.14 1254.7V1126.77H477.56V1254.7ZM477.56 1254.7V1158.75H479.98V1254.7ZM479.98 1254.7V1126.77H482.40V1254.7ZM482.40 1254.7V1190.73H484.82V1254.7ZM484.82 1254.7V1126.77H489.66V1254.7ZM489.66 1254.7V1158.75H496.92V1254.7ZM496.92 1254.7V1126.77H499.34V1254.7ZM499.34 1254.7V1094.78H501.76V1254.7ZM501.76 1254.7V1158.75H504.18V1254.7ZM504.18 1254.7V1094.78H506.60V1254.7ZM506.60 1254.7V1126.77H509.02V1254.7ZM509.02 1254.7V1158.75H511.44V1254.7ZM511.44 1254.7V1126.77H513.86V1254.7ZM513.86 1254.7V1062.80H518.70V1254.7ZM518.70 1254.7V1094.78H521.12V1254.7ZM521.12 1254.7V1126.77H523.54V1254.7ZM523.54 1254.7V1190.73H525.96V1254.7ZM525.96 1254.7V1222.72H528.38V1254.7ZM528.38 1254.7V1158.75H530.80V1254.7ZM530.80 1254.7V1190.73H552.58V1254.7ZM552.58 1254.7V1222.72H555.00V1254.7ZM555.00 1254.7V1190.73H571.94V1254.7ZM571.94 1254.7V1222.72H620.34V1254.7ZM620.34 1254.7V1190.73H622.76V1254.7ZM622.76 1254.7V1222.72H627.60V1254.7ZM627.60 1254.7V1094.78H630.02V1254.7ZM630.02 1254.7V1158.75H632.44V1254.7ZM632.44 1254.7V1094.78H634.86V1254.7ZM634.86 1254.7V1126.77H637.28V1254.7ZM637.28 1254.7V1158.75H639.70V1254.7ZM639.70 1254.7V1062.80H644.54V1254.7ZM644.54 1254.7V1158.75H646.96V1254.7ZM646.96 1254.7V1126.77H651.80V1254.7ZM651.80 1254.7V1158.75H654.22V1254.7ZM654.22 1254.7V1222.72H656.64V1254.7ZM656.64 1254.7V1190.73H659.06V1254.7ZM659.06 1254.7V1062.80H683.26V1254.7ZM683.26 1254.7V1094.78H685.68V1254.7ZM685.68 1254.7V1062.80H692.94V1254.7ZM692.94 1254.7V1126.77H695.36V1254.7ZM695.36 1254.7V1062.80H700.20V1254.7ZM751.02 1254.7V1062.80H758.28V1254.7ZM758.28 1254.7V1094.78H765.54V1254.7ZM765.54 1254.7V1126.77H767.96V1254.7ZM767.96 1254.7V1062.80H770.38V1254.7ZM770.38 1254.7V1158.75H772.80V1254.7ZM772.80 1254.7V1190.73H775.22V1254.7ZM775.22 1254.7V1158.75H780.06V1254.7ZM780.06 1254.7V1126.77H784.90V1254.7ZM784.90 1254.7V1190.73H787.32V1254.7Z" fill="#B3B3B3" shape-rendering="crispEdges"/>
<path d="M240.40 1254.7V1062.80H254.92V1254.7ZM254.92 1254.7V1094.78H257.34V1254.7ZM257.34 1254.7V1062.80H259.76V1254.7ZM259.76 1254.7V1158.75H264.60V1254.7ZM264.60 1254.7V1094.78H267.02V1254.7ZM267.02 1254.7V1062.80H283.96V1254.7ZM283.96 1254.7V1126.77H286.38V1254.7ZM286.38 1254.7V1062.80H291.22V1254.7Z" fill="#C1272D" shape-rendering="crispEdges"/>
<path d="M700.20 1254.7V1062.80H746.18V1254.7ZM746.18 1254.7V1094.78H748.60V1254.7ZM748.60 1254.7V1062.80H751.02V1254.7Z" fill="#0071BC" shape-rendering="crispEdges"/>
<path d="M174.6 1054.6V1264.7H816.0" fill="none" stroke="#000" stroke-width="2.8" stroke-linecap="square"/>
<line x1="165.6" y1="1062.6" x2="173.6" y2="1062.6" stroke="#333" stroke-width="2.9"/>
<text class="s" x="102.70" y="1073.50" font-size="37.7" stroke="#000">100</text>
<line x1="165.6" y1="1110.7" x2="173.6" y2="1110.7" stroke="#333" stroke-width="2.9"/>
<text class="s" x="121.10" y="1125.20" font-size="37.7" stroke="#000">75</text>
<line x1="165.6" y1="1158.5" x2="173.6" y2="1158.5" stroke="#333" stroke-width="2.9"/>
<text class="s" x="120.40" y="1172.60" font-size="37.7" stroke="#000">50</text>
<line x1="165.6" y1="1207.1" x2="173.6" y2="1207.1" stroke="#333" stroke-width="2.9"/>
<text class="s" x="120.00" y="1224.40" font-size="37.7" stroke="#000">25</text>
<line x1="165.6" y1="1255.2" x2="173.6" y2="1255.2" stroke="#333" stroke-width="2.9"/>
<text class="s" x="141.90" y="1272.20" font-size="37.7" stroke="#000">0</text>
<line x1="202.9" y1="1265.7" x2="202.9" y2="1273.2" stroke="#333" stroke-width="2.8"/>
<text class="s" x="206.20" y="1308.30" font-size="37.5" text-anchor="middle" stroke="#000">0</text>
<line x1="324.1" y1="1265.7" x2="324.1" y2="1273.2" stroke="#333" stroke-width="2.8"/>
<text class="s" x="330.50" y="1308.30" font-size="37.5" text-anchor="middle" stroke="#000">50</text>
<line x1="445.2" y1="1265.7" x2="445.2" y2="1273.2" stroke="#333" stroke-width="2.8"/>
<text class="s" x="449.30" y="1308.30" font-size="37.5" text-anchor="middle" stroke="#000">100</text>
<line x1="566.4" y1="1265.7" x2="566.4" y2="1273.2" stroke="#333" stroke-width="2.8"/>
<text class="s" x="572.40" y="1308.30" font-size="37.5" text-anchor="middle" stroke="#000">150</text>
<line x1="687.5" y1="1265.7" x2="687.5" y2="1273.2" stroke="#333" stroke-width="2.8"/>
<text class="s" x="698.20" y="1308.30" font-size="37.5" text-anchor="middle" stroke="#000">200</text>
<line x1="808.6" y1="1265.7" x2="808.6" y2="1273.2" stroke="#333" stroke-width="2.8"/>
<text class="s" x="821.30" y="1308.30" font-size="37.5" text-anchor="middle" stroke="#000">250</text>
<text class="s" stroke="#000" font-size="38.2" text-anchor="middle" transform="translate(88.1,1157.0) rotate(-90)">Identity (%)</text>
<rect x="139.8" y="1320.2" width="50.1" height="23.0" fill="#C1272D"/>
<text class="s" x="199.70" y="1343.30" font-size="33.4" stroke="#000">miR408-5p</text>
<rect x="377.5" y="1320.2" width="50.1" height="23.0" fill="#B3B3B3"/>
<text class="s" x="436.00" y="1343.30" font-size="33.4" stroke="#000">Other region</text>
<rect x="631.9" y="1320.2" width="49.2" height="23.0" fill="#0071BC"/>
<text class="s" x="689.00" y="1343.30" font-size="33.4" stroke="#000">miR408-3p</text>
<path d="M1098.07 1265.6V1174.87H1102.15V1265.6ZM1102.15 1265.6V1211.16H1106.23V1265.6ZM1106.23 1265.6V1156.73H1110.31V1265.6ZM1110.31 1265.6V1193.02H1118.47V1265.6ZM1118.47 1265.6V1174.87H1130.72V1265.6ZM1130.72 1265.6V1138.58H1134.80V1265.6ZM1134.80 1265.6V1156.73H1138.88V1265.6ZM1138.88 1265.6V1120.44H1142.96V1265.6ZM1142.96 1265.6V1156.73H1147.04V1265.6ZM1147.04 1265.6V1102.29H1155.20V1265.6ZM1155.20 1265.6V1156.73H1159.28V1265.6ZM1249.07 1265.6V1138.58H1253.15V1265.6ZM1253.15 1265.6V1156.73H1257.23V1265.6ZM1257.23 1265.6V1120.44H1265.39V1265.6ZM1265.39 1265.6V1156.73H1269.47V1265.6ZM1269.47 1265.6V1120.44H1273.55V1265.6ZM1273.55 1265.6V1211.16H1277.63V1265.6ZM1277.63 1265.6V1174.87H1281.71V1265.6ZM1281.71 1265.6V1138.58H1285.80V1265.6ZM1285.80 1265.6V1156.73H1289.88V1265.6ZM1289.88 1265.6V1174.87H1293.96V1265.6ZM1293.96 1265.6V1138.58H1298.04V1265.6ZM1298.04 1265.6V1102.29H1302.12V1265.6ZM1302.12 1265.6V1156.73H1306.20V1265.6ZM1306.20 1265.6V1102.29H1310.28V1265.6ZM1310.28 1265.6V1229.31H1318.44V1265.6ZM1318.44 1265.6V1247.45H1334.77V1265.6ZM1334.77 1265.6V1229.31H1338.85V1265.6ZM1338.85 1265.6V1247.45H1342.93V1265.6ZM1342.93 1265.6V1229.31H1351.09V1265.6ZM1351.09 1265.6V1247.45H1379.66V1265.6ZM1379.66 1265.6V1229.31H1383.74V1265.6ZM1383.74 1265.6V1247.45H1387.82V1265.6ZM1387.82 1265.6V1229.31H1395.98V1265.6ZM1395.98 1265.6V1247.45H1404.14V1265.6ZM1404.14 1265.6V1229.31H1408.23V1265.6ZM1408.23 1265.6V1247.45H1428.63V1265.6ZM1428.63 1265.6V1229.31H1432.71V1265.6ZM1432.71 1265.6V1211.16H1436.79V1265.6ZM1436.79 1265.6V1229.31H1444.95V1265.6ZM1444.95 1265.6V1174.87H1449.04V1265.6ZM1449.04 1265.6V1193.02H1453.12V1265.6ZM1453.12 1265.6V1211.16H1457.20V1265.6ZM1457.20 1265.6V1174.87H1461.28V1265.6ZM1461.28 1265.6V1211.16H1465.36V1265.6ZM1465.36 1265.6V1138.58H1469.44V1265.6ZM1469.44 1265.6V1211.16H1473.52V1265.6ZM1473.52 1265.6V1193.02H1477.60V1265.6ZM1477.60 1265.6V1174.87H1481.68V1265.6ZM1481.68 1265.6V1193.02H1485.76V1265.6ZM1485.76 1265.6V1120.44H1489.85V1265.6ZM1489.85 1265.6V1138.58H1493.93V1265.6ZM1493.93 1265.6V1084.15H1498.01V1265.6ZM1498.01 1265.6V1102.29H1506.17V1265.6ZM1506.17 1265.6V1084.15H1510.25V1265.6ZM1510.25 1265.6V1138.58H1514.33V1265.6ZM1514.33 1265.6V1120.44H1518.41V1265.6ZM1518.41 1265.6V1174.87H1522.49V1265.6ZM1522.49 1265.6V1156.73H1526.58V1265.6ZM1526.58 1265.6V1120.44H1530.66V1265.6ZM1530.66 1265.6V1156.73H1534.74V1265.6ZM1534.74 1265.6V1120.44H1538.82V1265.6ZM1538.82 1265.6V1138.58H1542.90V1265.6ZM1542.90 1265.6V1174.87H1546.98V1265.6ZM1546.98 1265.6V1120.44H1551.06V1265.6ZM1551.06 1265.6V1156.73H1555.14V1265.6ZM1644.92 1265.6V1084.15H1649.01V1265.6ZM1649.01 1265.6V1156.73H1657.17V1265.6ZM1657.17 1265.6V1138.58H1665.33V1265.6ZM1665.33 1265.6V1156.73H1669.41V1265.6ZM1669.41 1265.6V1174.87H1681.65V1265.6ZM1681.65 1265.6V1138.58H1685.73V1265.6ZM1685.73 1265.6V1174.87H1689.82V1265.6ZM1689.82 1265.6V1211.16H1693.90V1265.6ZM1693.90 1265.6V1193.02H1697.98V1265.6ZM1697.98 1265.6V1211.16H1706.14V1265.6Z" fill="#B3B3B3" shape-rendering="crispEdges"/>
<path d="M1159.28 1265.6V1084.15H1163.37V1265.6ZM1163.37 1265.6V1174.87H1167.45V1265.6ZM1167.45 1265.6V1084.15H1171.53V1265.6ZM1171.53 1265.6V1066.00H1179.69V1265.6ZM1179.69 1265.6V1084.15H1183.77V1265.6ZM1183.77 1265.6V1102.29H1187.85V1265.6ZM1187.85 1265.6V1156.73H1191.93V1265.6ZM1191.93 1265.6V1066.00H1196.01V1265.6ZM1196.01 1265.6V1084.15H1200.10V1265.6ZM1200.10 1265.6V1156.73H1204.18V1265.6ZM1204.18 1265.6V1102.29H1208.26V1265.6ZM1208.26 1265.6V1066.00H1212.34V1265.6ZM1212.34 1265.6V1084.15H1216.42V1265.6ZM1216.42 1265.6V1138.58H1220.50V1265.6ZM1220.50 1265.6V1066.00H1228.66V1265.6ZM1228.66 1265.6V1084.15H1236.82V1265.6ZM1236.82 1265.6V1066.00H1240.90V1265.6ZM1240.90 1265.6V1120.44H1244.99V1265.6ZM1244.99 1265.6V1138.58H1249.07V1265.6Z" fill="#C1272D" shape-rendering="crispEdges"/>
<path d="M1555.14 1265.6V1084.15H1559.22V1265.6ZM1559.22 1265.6V1066.00H1575.55V1265.6ZM1575.55 1265.6V1084.15H1579.63V1265.6ZM1579.63 1265.6V1066.00H1595.95V1265.6ZM1595.95 1265.6V1084.15H1600.03V1265.6ZM1600.03 1265.6V1066.00H1604.11V1265.6ZM1604.11 1265.6V1084.15H1608.19V1265.6ZM1608.19 1265.6V1066.00H1636.76V1265.6ZM1636.76 1265.6V1084.15H1640.84V1265.6ZM1640.84 1265.6V1066.00H1644.92V1265.6Z" fill="#0071BC" shape-rendering="crispEdges"/>
<path d="M1068.5 1057.3V1276.1H1734.3" fill="none" stroke="#000" stroke-width="2.8" stroke-linecap="square"/>
<line x1="1059.5" y1="1065.6" x2="1067.5" y2="1065.6" stroke="#333" stroke-width="2.9"/>
<text class="s" x="990.70" y="1080.30" font-size="37.7" stroke="#000">100</text>
<line x1="1059.5" y1="1115.6" x2="1067.5" y2="1115.6" stroke="#333" stroke-width="2.9"/>
<text class="s" x="1007.90" y="1132.70" font-size="37.7" stroke="#000">75</text>
<line x1="1059.5" y1="1165.6" x2="1067.5" y2="1165.6" stroke="#333" stroke-width="2.9"/>
<text class="s" x="1007.90" y="1179.40" font-size="37.7" stroke="#000">50</text>
<line x1="1059.5" y1="1215.6" x2="1067.5" y2="1215.6" stroke="#333" stroke-width="2.9"/>
<text class="s" x="1006.80" y="1231.20" font-size="37.7" stroke="#000">25</text>
<line x1="1059.5" y1="1265.7" x2="1067.5" y2="1265.7" stroke="#333" stroke-width="2.9"/>
<text class="s" x="1028.60" y="1279.20" font-size="37.7" stroke="#000">0</text>
<line x1="1096.4" y1="1277.1" x2="1096.4" y2="1284.6" stroke="#333" stroke-width="2.8"/>
<text class="s" x="1096.40" y="1315.20" font-size="37.5" text-anchor="middle" stroke="#000">0</text>
<line x1="1300.1" y1="1277.1" x2="1300.1" y2="1284.6" stroke="#333" stroke-width="2.8"/>
<text class="s" x="1303.90" y="1315.20" font-size="37.5" text-anchor="middle" stroke="#000">50</text>
<line x1="1503.8" y1="1277.1" x2="1503.8" y2="1284.6" stroke="#333" stroke-width="2.8"/>
<text class="s" x="1500.30" y="1315.20" font-size="37.5" text-anchor="middle" stroke="#000">100</text>
<line x1="1707.5" y1="1277.1" x2="1707.5" y2="1284.6" stroke="#333" stroke-width="2.8"/>
<text class="s" x="1709.20" y="1315.20" font-size="37.5" text-anchor="middle" stroke="#000">150</text>
<text class="s" stroke="#000" font-size="37.6" text-anchor="middle" transform="translate(975.9,1164.3) rotate(-90)">Identity (%)</text>
<rect x="1038" y="1327" width="50.1" height="23.2" fill="#C1272D"/>
<text class="s" x="1097.30" y="1350.30" font-size="33.4" stroke="#000">miR408-5p</text>
<rect x="1275.7" y="1327" width="50.1" height="23.2" fill="#B3B3B3"/>
<text class="s" x="1333.00" y="1350.30" font-size="33.4" stroke="#000">Other region</text>
<rect x="1530.2" y="1327" width="50.1" height="23.2" fill="#0071BC"/>
<text class="s" x="1586.40" y="1350.30" font-size="33.4" stroke="#000">miR408-3p</text>
</svg>
</body></html>
